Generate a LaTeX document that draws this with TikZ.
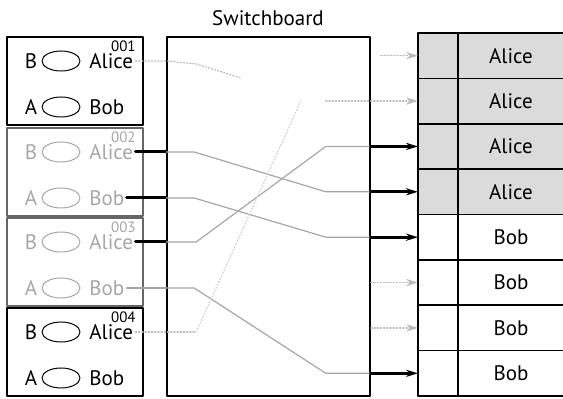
\documentclass[tikz,border=0pt]{standalone}
\usepackage{fontspec}
\setmainfont{PT Sans}
\usetikzlibrary{calc}
\usetikzlibrary{arrows.meta}
\usetikzlibrary{positioning}
\usetikzlibrary{shapes.geometric}

\tikzset{
  card/.style={draw, line width=0.8pt},
  slot/.style={draw, ellipse, minimum width=19pt, minimum height=10pt, inner sep=0pt, line width=0.5pt},
  wire/.style={gray!70, line width=0.6pt},
  stub/.style={line width=1.5pt},
  ghost/.style={gray!55, densely dotted, line width=0.6pt},
}

\begin{document}
\begin{tikzpicture}[x=0.5pt, y=-0.5pt, line cap=round, line join=round, >={Stealth[length=6pt, width=3.6pt]},
    font=\fontsize{10.5}{12}\selectfont]
  \useasboundingbox (0,0) rectangle (563,399);
  %--- Switchboard
    \node[draw, line width=0.8pt, minimum width=101.5pt, minimum height=179.5pt, inner sep=0pt] (sb) at (268.5,216.5) {};
    \node (title) at (268,18) {Switchboard};
  %--- Cards
    \foreach \k/\ty/\num/\fr/\ink in {1/37/001/black/black, 2/128/002/black!60/black!35,
                                      3/218/003/black!60/black!35, 4/308/004/black/black} {
      \draw[card, draw=\fr] (7,\ty) rectangle ++(136,88);
      \node[text=\ink, font=\fontsize{7.5}{8}\selectfont, anchor=north east, inner sep=1pt] (no\k) at (138,\ty+1) {\num};
      \node[text=\ink] (lb\k) at (31,\ty+24) {B};
      \node[slot, draw=\ink] (ea\k) at (61,\ty+24) {};
      \node[text=\ink, anchor=west, inner sep=0pt] (a\k) at (89,\ty+24) {Alice};
      \node[text=\ink] (la\k) at (31,\ty+70) {A};
      \node[slot, draw=\ink] (eb\k) at (61,\ty+70) {};
      \node[text=\ink, anchor=west, inner sep=0pt] (b\k) at (89,\ty+70) {Bob};
    }
  %--- Table
    \fill[gray!28] (418,33) rectangle (563,214.5);
    \draw[line width=0.8pt] (563,33) -- (418,33) -- (418,396) -- (563,396);
    \draw[line width=0.8pt] (458,33) -- (458,396);
    \foreach \j in {1,...,7}
      \draw[line width=0.8pt] (418,33+45.375*\j) -- (563,33+45.375*\j);
    \foreach \j/\who in {1/Alice, 2/Alice, 3/Alice, 4/Alice, 5/Bob, 6/Bob, 7/Bob, 8/Bob} {
      \coordinate (r\j) at (418,10.3125+45.375*\j);
      \node (n\j) at (511,10.3125+45.375*\j) {\who};
    }
  %--- 002 Alice
    \draw[stub] ([xshift=1pt]a2.east) -- (a2 -| sb.west);
    \draw[wire] (a2 -| sb.west) -- ++(28,0) -- ($(r4 -| sb.east)+(-45,0)$) -- (r4 -| sb.east);
    \draw[stub, ->] (r4 -| sb.east) -- (r4);
  %--- 002 Bob
    \draw[stub] ([xshift=1pt]b2.east) -- (b2 -| sb.west);
    \draw[wire] (b2 -| sb.west) -- ++(28,0) -- ($(r5 -| sb.east)+(-45,0)$) -- (r5 -| sb.east);
    \draw[stub, ->] (r5 -| sb.east) -- (r5);
  %--- 003 Alice
    \draw[stub] ([xshift=1pt]a3.east) -- (a3 -| sb.west);
    \draw[wire] (a3 -| sb.west) -- ++(30,0) -- ($(r3 -| sb.east)+(-45,0)$) -- (r3 -| sb.east);
    \draw[stub, ->] (r3 -| sb.east) -- (r3);
  %--- 003 Bob
    \draw[wire] ([xshift=1pt]b3.east) -- (b3 -| sb.west);
    \draw[wire] (b3 -| sb.west) -- ++(28,0) -- ($(r8 -| sb.east)+(-45,0)$) -- (r8 -| sb.east);
    \draw[stub, ->] (r8 -| sb.east) -- (r8);
  %--- unused routes
    \draw[ghost] ([xshift=1pt]a1.east) -- (a1 -| sb.west) -- ++(30,3) -- ++(45,14);
    \draw[ghost, ->] ($(r1 -| sb.east)+(10,0)$) -- (r1);
    \draw[ghost] ([xshift=1pt]a4.east) -- (a4 -| sb.west) -- ++(30,0);
    \draw[ghost, gray!35] ($(a4 -| sb.west)+(30,0)$) -- ($(r2 -| sb.east)+(-70,0)$);
    \draw[ghost, ->] ($(r2 -| sb.east)+(-45,0)$) -- (r2);
    \draw[ghost, ->] (r6 -| sb.east) -- (r6);
    \draw[ghost, ->] (r7 -| sb.east) -- (r7);
\end{tikzpicture}
\end{document}
